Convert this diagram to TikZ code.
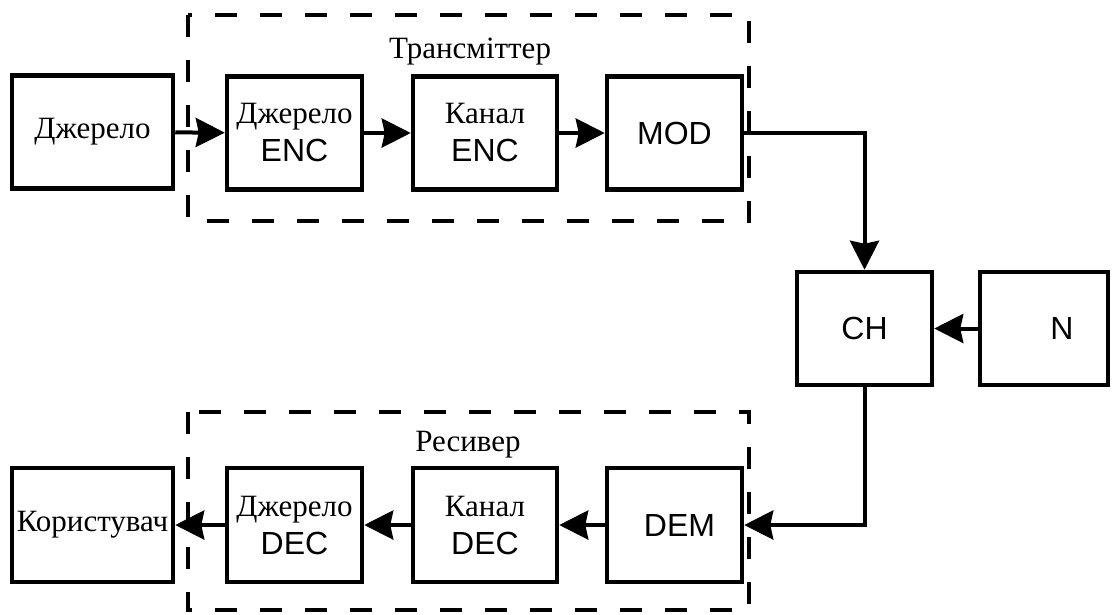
\documentclass[tikz,border=0pt]{standalone}
\usepackage{fontspec}
\setmainfont{Liberation Serif}
\setsansfont{Liberation Sans}
\usetikzlibrary{arrows.meta}

\newcommand{\sflab}[1]{{\fontsize{32}{38}\selectfont\sffamily #1}}

\tikzset{
  blk/.style={draw, line width=4.5pt, rectangle, inner sep=0pt,
    minimum height=113pt, align=center,
    font=\fontsize{31}{38}\selectfont},
  link/.style={line width=4pt, -{Stealth[length=29pt,width=29pt,inset=3pt]}},
  groupbox/.style={line width=4.5pt, dash pattern=on 22pt off 23pt},
  grouplabel/.style={anchor=base, font=\fontsize{31}{36}\selectfont}
}

\begin{document}
\begin{tikzpicture}[x=1pt,y=-1pt]
\useasboundingbox (0,0) rectangle (1113,614);

% transmitter and receiver frames
\draw[groupbox] (188,15) rectangle (749,221);
\draw[groupbox] (188,412) rectangle (749,610);
\node[grouplabel] (txlab) at (470,58) {Трансміттер};
\node[grouplabel] (rxlab) at (468,451) {Ресивер};

% upper chain
\node[blk, minimum width=161pt] (src)  at (92.5,132) {Джерело};
\node[blk, minimum width=135pt] (senc) at (294.5,133) {Джерело\\\sflab{ENC}};
\node[blk, minimum width=144pt] (cenc) at (485,133) {Канал\\\sflab{ENC}};
\node[blk, minimum width=135pt] (mod)  at (674.5,133) {\sflab{MOD}};

% channel and noise
\node[blk, minimum width=135pt] (ch)    at (864.5,328.5) {\sflab{CH}};
\node[blk, minimum width=128pt] (noise) at (1044,328.5) {\hspace*{36pt}\sflab{N}};

% lower chain
\node[blk, minimum width=161pt, minimum height=114pt] (user) at (92.5,525) {Користувач};
\node[blk, minimum width=135pt, minimum height=114pt] (sdec) at (294.5,525) {Джерело\\\sflab{DEC}};
\node[blk, minimum width=144pt, minimum height=114pt] (cdec) at (485,525) {Канал\\\sflab{DEC}};
\node[blk, minimum width=135pt, minimum height=114pt] (dem)  at (674.5,525) {\hspace*{10pt}\sflab{DEM}};

% connectors
\draw[link] (src) -- (senc);
\draw[link] (senc) -- (cenc);
\draw[link] (cenc) -- (mod);
\draw[link] (mod.east) -| (ch.north);
\draw[link] (noise) -- (ch);
\draw[link] (ch.south) |- (dem.east);
\draw[link] (dem) -- (cdec);
\draw[link] (cdec) -- (sdec);
\draw[link] (sdec) -- (user);
\end{tikzpicture}
\end{document}
